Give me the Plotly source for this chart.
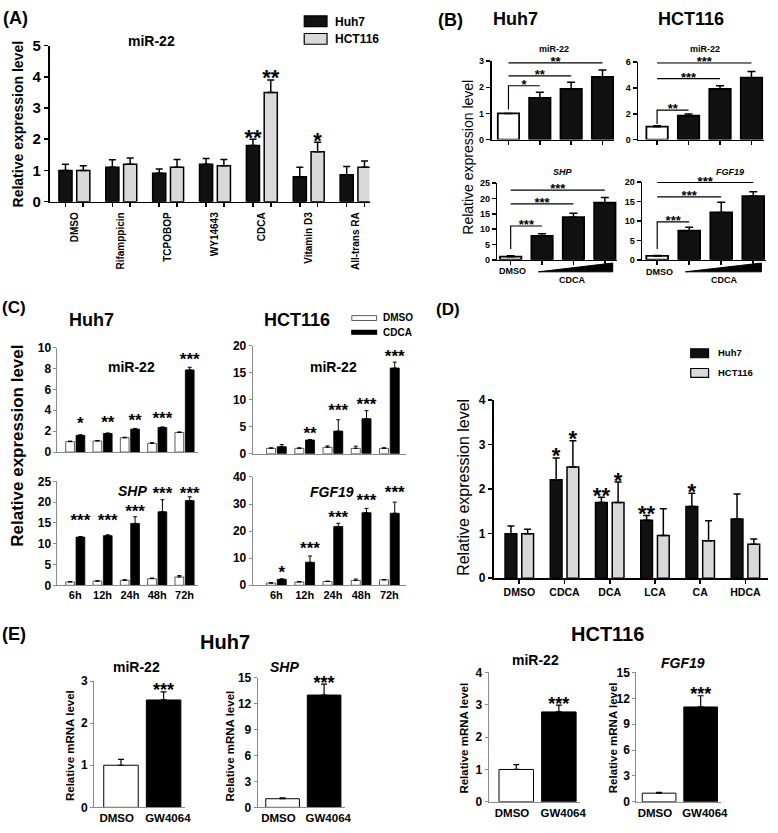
import plotly.graph_objects as go

W, H = 778, 833
FONT = "Liberation Sans, Arial, Helvetica, sans-serif"
INK = "#111111"
LIGHT = "#d9d9d9"
AXGREY = "#8a8a8a"

# ======================= DATA =======================
# (A) miR-22 after nuclear receptor ligands
a_categories = ["DMSO", "Rifamppicin", "TCPOBOP", "WY14643", "CDCA", "Vitamin D3", "All-trans RA"]
a_huh7 = [1.00, 1.10, 0.91, 1.20, 1.80, 0.80, 0.86]
a_huh7_err = [0.20, 0.24, 0.14, 0.18, 0.20, 0.30, 0.27]
a_hct116 = [1.00, 1.20, 1.10, 1.15, 3.50, 1.60, 1.10]
a_hct116_err = [0.15, 0.20, 0.25, 0.20, 0.40, 0.30, 0.20]
a_huh7_sig = ["", "", "", "", "**", "", ""]
a_hct116_sig = ["", "", "", "", "**", "*", ""]

# (B) CDCA dose response
b_groups = ["DMSO", "CDCA low", "CDCA mid", "CDCA high"]
b_huh7_mir22 = [1.00, 1.60, 1.94, 2.40]
b_huh7_mir22_err = [0.00, 0.21, 0.25, 0.26]
b_hct116_mir22 = [1.00, 1.85, 3.92, 4.80]
b_hct116_mir22_err = [0.08, 0.14, 0.26, 0.48]
b_huh7_shp = [1.00, 7.80, 13.90, 18.60]
b_huh7_shp_err = [0.30, 0.70, 1.30, 1.70]
b_hct116_fgf19 = [1.00, 7.50, 12.20, 16.40]
b_hct116_fgf19_err = [0.10, 0.90, 2.60, 1.10]
# significance brackets: (target group index, bracket level, label)
b_huh7_mir22_brackets = [(1, 2.06, "*"), (2, 2.44, "**"), (3, 2.94, "**")]
b_hct116_mir22_brackets = [(1, 2.28, "**"), (2, 4.73, "***"), (3, 5.95, "***")]
b_huh7_shp_brackets = [(1, 11.0, "***"), (2, 18.2, "***"), (3, 22.7, "***")]
b_hct116_fgf19_brackets = [(1, 9.75, "***"), (2, 16.2, "***"), (3, 19.9, "***")]
b_bracket_bases = [1.15, 1.2, 3.5, 2.8]

# (C) time course
c_times = ["6h", "12h", "24h", "48h", "72h"]
c_huh7_mir22_dmso = [1.00, 1.06, 1.37, 0.84, 1.87]
c_huh7_mir22_dmso_err = [0.05, 0.05, 0.05, 0.05, 0.06]
c_huh7_mir22_cdca = [1.60, 1.78, 2.20, 2.35, 7.87]
c_huh7_mir22_cdca_err = [0.05, 0.05, 0.06, 0.06, 0.25]
c_huh7_mir22_sig = ["*", "**", "**", "***", "***"]
c_huh7_mir22_sig_y = [2.6, 2.7, 2.9, 3.1, 8.7]

c_huh7_shp_dmso = [0.8, 1.0, 1.2, 1.6, 2.0]
c_huh7_shp_dmso_err = [0.10, 0.10, 0.15, 0.15, 0.35]
c_huh7_shp_cdca = [11.6, 11.95, 14.9, 17.7, 20.4]
c_huh7_shp_cdca_err = [0.15, 0.20, 1.60, 2.90, 0.90]
c_huh7_shp_sig = ["***", "***", "***", "***", "***"]
c_huh7_shp_sig_y = [15.2, 15.2, 17.4, 21.7, 21.7]

c_hct116_mir22_dmso = [1.0, 1.0, 1.2, 1.0, 1.0]
c_hct116_mir22_dmso_err = [0.10, 0.10, 0.25, 0.40, 0.10]
c_hct116_mir22_cdca = [1.3, 2.55, 4.2, 6.5, 15.9]
c_hct116_mir22_cdca_err = [0.40, 0.10, 2.10, 1.50, 1.10]
c_hct116_mir22_sig = ["", "**", "***", "***", "***"]
c_hct116_mir22_sig_y = [2.5, 3.5, 7.7, 8.9, 17.8]

c_hct116_fgf19_dmso = [0.8, 1.2, 1.4, 1.8, 2.0]
c_hct116_fgf19_dmso_err = [0.15, 0.20, 0.15, 0.50, 0.10]
c_hct116_fgf19_cdca = [2.2, 8.5, 21.7, 26.8, 26.6]
c_hct116_fgf19_cdca_err = [0.20, 2.30, 1.20, 1.60, 4.10]
c_hct116_fgf19_sig = ["*", "***", "***", "***", "***"]
c_hct116_fgf19_sig_y = [4.2, 13.3, 24.7, 30.7, 33.7]

# (D) bile acids
d_categories = ["DMSO", "CDCA", "DCA", "LCA", "CA", "HDCA"]
d_huh7 = [1.00, 2.21, 1.70, 1.30, 1.61, 1.33]
d_huh7_err = [0.17, 0.49, 0.12, 0.11, 0.30, 0.56]
d_hct116 = [1.00, 2.50, 1.70, 0.96, 0.84, 0.76]
d_hct116_err = [0.10, 0.59, 0.46, 0.60, 0.45, 0.12]
d_huh7_sig = ["", "*", "**", "**", "*", ""]
d_hct116_sig = ["", "*", "*", "", "", ""]

# (E) GW4064
e_groups = ["DMSO", "GW4064"]
e_huh7_mir22 = [1.00, 2.55]
e_huh7_mir22_err = [0.14, 0.19]
e_huh7_shp = [1.00, 13.00]
e_huh7_shp_err = [0.10, 1.26]
e_hct116_mir22 = [1.00, 2.78]
e_hct116_mir22_err = [0.15, 0.21]
e_hct116_fgf19 = [1.00, 11.00]
e_hct116_fgf19_err = [0.10, 1.30]
e_sig = ["", "***"]

# ======================= FIGURE =======================
fig = go.Figure()
layout = dict(width=W, height=H, margin=dict(l=0, r=0, t=0, b=0),
              paper_bgcolor="white", plot_bgcolor="rgba(0,0,0,0)",
              barmode="overlay", showlegend=False,
              font=dict(family=FONT, color="black"))
shapes, annotations = [], []


def ref(i):
    s = "" if i == 1 else str(i)
    return "x" + s, "y" + s, "xaxis" + s, "yaxis" + s


def add_axes(i, xpx, ypx, xrange, yrange, dtick, style, ytick_size,
             xtickvals=None, xlabels=None, xlabel_size=11, xticks="",
             xangle=0, minor_vals=None, standoff=None):
    xr, yr, xk, yk = ref(i)
    if style == "prism":
        lc, lw, tl, tw = "black", 1.6, 4, 1.6
    else:
        lc, lw, tl, tw = AXGREY, 1, 3, 1
    xa = dict(domain=[xpx[0] / W, xpx[1] / W], range=xrange, anchor=yr,
              showline=True, linecolor=lc, linewidth=lw, showgrid=False,
              zeroline=False, ticks=xticks, ticklen=tl, tickwidth=tw,
              tickcolor=lc, fixedrange=True, tickangle=xangle)
    if xtickvals is not None:
        xa.update(tickmode="array", tickvals=xtickvals)
        if xlabels is not None:
            xa.update(ticktext=xlabels, showticklabels=True,
                      tickfont=dict(family=FONT, size=xlabel_size, color="black", weight="bold"))
        else:
            xa.update(ticktext=[""] * len(xtickvals), showticklabels=False)
    else:
        xa.update(showticklabels=False)
    if standoff is not None:
        xa["ticklabelstandoff"] = standoff
    if minor_vals is not None:
        xa["minor"] = dict(tickmode="array", tickvals=minor_vals, ticks="outside",
                           ticklen=tl, tickwidth=tw, tickcolor=lc)
    ya = dict(domain=[1 - ypx[1] / H, 1 - ypx[0] / H], range=yrange, anchor=xr,
              showline=True, linecolor=lc, linewidth=lw, showgrid=False,
              zeroline=False, tickmode="linear", tick0=0, dtick=dtick,
              ticks="outside", ticklen=tl, tickwidth=tw, tickcolor=lc,
              tickfont=dict(family=FONT, size=ytick_size, color="black", weight="bold"),
              fixedrange=True)
    layout[xk] = xa
    layout[yk] = ya


def pos(n, shift=0.0):
    return [k + shift for k in range(n)]


def bars(i, xs, ys, errs, width, fill, line_color="black", line_width=1.5, cap=3.5, thick=1.5):
    xr, yr, _, _ = ref(i)
    fig.add_trace(go.Bar(
        x=xs, y=ys, width=width, xaxis=xr, yaxis=yr,
        marker=dict(color=fill, line=dict(color=line_color, width=line_width)),
        error_y=dict(type="data", array=errs, arrayminus=[0] * len(errs), symmetric=False,
                     color="black", thickness=thick, width=cap),
        hoverinfo="skip", showlegend=False))


def stars(i, xs, ys, labels, size):
    xr, yr, _, _ = ref(i)
    fig.add_trace(go.Scatter(
        x=xs, y=ys, text=labels, mode="text", textposition="middle center",
        textfont=dict(family=FONT, size=size, color="black", weight="bold"),
        cliponaxis=False, xaxis=xr, yaxis=yr, hoverinfo="skip", showlegend=False))


def tops(v, e):
    return [a + b for a, b in zip(v, e)]


def brackets(i, specs, base, size):
    xr, yr, _, _ = ref(i)
    for k, (target, level, label) in enumerate(specs):
        if k == 0:
            xs, ys = [0, 0, target], [base, level, level]
        else:
            xs, ys = [0, target], [level, level]
        fig.add_trace(go.Scatter(x=xs, y=ys, mode="lines", line=dict(color="black", width=1.2),
                                 xaxis=xr, yaxis=yr, hoverinfo="skip", showlegend=False))
        stars(i, [target / 2], [level], [label], size)


def text(t, x, y, size, bold=True, italic=False, xanchor="center", angle=0):
    s = t
    if italic:
        s = "<i>" + s + "</i>"
    if bold:
        s = "<b>" + s + "</b>"
    annotations.append(dict(text=s, x=x / W, y=1 - y / H, xref="paper", yref="paper",
                            xanchor=xanchor, yanchor="middle", showarrow=False,
                            textangle=angle, font=dict(family=FONT, size=size, color="black")))


def rect(x0, y0, x1, y1, fill, line="black", lw=1.2):
    shapes.append(dict(type="rect", xref="paper", yref="paper", x0=x0 / W, x1=x1 / W,
                       y0=1 - y1 / H, y1=1 - y0 / H, fillcolor=fill,
                       line=dict(color=line, width=lw)))


def wedge(x0, x1, ytop, ybot):
    p = "M {} {} L {} {} L {} {} Z".format(x0 / W, 1 - ybot / H, x1 / W, 1 - ytop / H,
                                          x1 / W, 1 - ybot / H)
    shapes.append(dict(type="path", xref="paper", yref="paper", path=p,
                       fillcolor="black", line=dict(color="black", width=1)))


# ---------------- (A) ----------------
nA = len(a_categories)
add_axes(1, (50, 373), (37.3, 196.7), [-0.53, 6.3], [0, 5], 1, "prism", 15,
         xtickvals=pos(nA), xlabels=a_categories, xlabel_size=10, xticks="",
         xangle=-90, minor_vals=pos(nA, -0.19) + pos(nA, 0.19), standoff=5)
bars(1, pos(nA, -0.19), a_huh7, a_huh7_err, 0.28, INK)
bars(1, pos(nA, 0.19), a_hct116, a_hct116_err, 0.28, LIGHT)
stars(1, pos(nA, -0.19), tops(a_huh7, a_huh7_err), a_huh7_sig, 22)
stars(1, pos(nA, 0.19), tops(a_hct116, a_hct116_err), a_hct116_sig, 22)
text("(A)", 1, 9, 18, xanchor="left")
text("miR-22", 153, 33, 14)
text("Relative expression level", 18, 117, 14, angle=-90)
rect(307, 7, 330, 18, INK)
rect(307, 25, 330, 36, LIGHT)
text("Huh7", 336, 13, 12, xanchor="left")
text("HCT116", 336, 31, 12, xanchor="left")

# ---------------- (B) ----------------
nB = len(b_groups)
b_fill = ["white"] + [INK] * (nB - 1)
b_specs = [
    (2, (496, 620), (53.3, 133.3), [-0.54, 3.38], [0, 3], 1, b_huh7_mir22, b_huh7_mir22_err, b_huh7_mir22_brackets),
    (3, (644, 771), (54.3, 133.3), [-0.6, 3.4], [0, 6], 2, b_hct116_mir22, b_hct116_mir22_err, b_hct116_mir22_brackets),
    (4, (502, 623), (177.7, 256), [-0.42, 3.4], [0, 25], 5, b_huh7_shp, b_huh7_shp_err, b_huh7_shp_brackets),
    (5, (648, 773), (176.7, 256), [-0.47, 3.4], [0, 20], 5, b_hct116_fgf19, b_hct116_fgf19_err, b_hct116_fgf19_brackets),
]
for k, (i, xp, yp, xr_, yr_, dt, vals, errs, brs) in enumerate(b_specs):
    add_axes(i, xp, yp, xr_, yr_, dt, "prism", 9, xtickvals=pos(nB), xticks="outside")
    bars(i, pos(nB), vals, errs, 0.68, b_fill, line_width=1.8, cap=4, thick=1.5)
    brackets(i, brs, b_bracket_bases[k], 13)
text("(B)", 440, 11, 18, xanchor="left")
text("Huh7", 520, 10, 18)
text("HCT116", 697, 10, 18)
text("miR-22", 559, 41, 9)
text("miR-22", 711, 41, 9)
text("SHP", 568, 166, 9, italic=True)
text("FGF19", 737, 166, 9, italic=True)
text("Relative expression level", 472, 151, 14, bold=False, angle=-90)
text("DMSO", 517, 267, 9)
text("DMSO", 665, 268, 9)
text("CDCA", 577, 277, 9)
text("CDCA", 731, 277, 9)
wedge(543.3, 618.3, 259.3, 268.3)
wedge(691.7, 768.3, 259.3, 268.3)

# ---------------- (C) ----------------
nC = len(c_times)
c_specs = [
    (6, (58, 200), (345.7, 452.3), [-0.65, 4.5], [0, 10], 2, None,
     c_huh7_mir22_dmso, c_huh7_mir22_dmso_err, c_huh7_mir22_cdca, c_huh7_mir22_cdca_err, c_huh7_mir22_sig, c_huh7_mir22_sig_y),
    (7, (255, 410), (344, 454), [-0.84, 4.6], [0, 20], 5, None,
     c_hct116_mir22_dmso, c_hct116_mir22_dmso_err, c_hct116_mir22_cdca, c_hct116_mir22_cdca_err, c_hct116_mir22_sig, c_hct116_mir22_sig_y),
    (8, (58, 200), (482.3, 588.3), [-0.65, 4.5], [0, 25], 5, c_times,
     c_huh7_shp_dmso, c_huh7_shp_dmso_err, c_huh7_shp_cdca, c_huh7_shp_cdca_err, c_huh7_shp_sig, c_huh7_shp_sig_y),
    (9, (255, 410), (477.7, 588.3), [-0.84, 4.6], [0, 40], 10, c_times,
     c_hct116_fgf19_dmso, c_hct116_fgf19_dmso_err, c_hct116_fgf19_cdca, c_hct116_fgf19_cdca_err, c_hct116_fgf19_sig, c_hct116_fgf19_sig_y),
]
for (i, xp, yp, xr_, yr_, dt, labels, dv, de, cv, ce, sig, sy) in c_specs:
    add_axes(i, xp, yp, xr_, yr_, dt, "excel", 12,
             xtickvals=pos(nC) if labels else None, xlabels=labels, xlabel_size=11)
    bars(i, pos(nC, -0.19), dv, de, 0.32, "white", line_color="#333333", line_width=0.8, cap=2, thick=1)
    bars(i, pos(nC, 0.19), cv, ce, 0.32, "black", line_color="black", line_width=0.8, cap=2, thick=1)
    stars(i, pos(nC, 0.19), sy, sig, 17)
text("(C)", 0, 305, 17, xanchor="left")
text("Huh7", 92, 317, 18)
text("HCT116", 300, 317, 18)
rect(355, 313, 380, 318, "white", line="#333333", lw=0.8)
rect(355, 328, 380, 332, "black")
text("DMSO", 384, 315, 10, xanchor="left")
text("CDCA", 384, 330, 10, xanchor="left")
text("miR-22", 133, 365, 14)
text("miR-22", 337, 365, 14)
text("SHP", 134, 492, 14, italic=True)
text("FGF19", 335, 493, 14, italic=True)
text("Relative expression level", 18, 446, 17, angle=-90)

# ---------------- (D) ----------------
nD = len(d_categories)
add_axes(10, (498, 775), (399.3, 581), [-0.57, 5.5], [0, 4], 1, "prism", 12,
         xtickvals=pos(nD), xlabels=d_categories, xlabel_size=10.5, xticks="outside")
bars(10, pos(nD, -0.185), d_huh7, d_huh7_err, 0.26, INK)
bars(10, pos(nD, 0.185), d_hct116, d_hct116_err, 0.26, LIGHT)
stars(10, pos(nD, -0.185), tops(d_huh7, d_huh7_err), d_huh7_sig, 22)
stars(10, pos(nD, 0.185), tops(d_hct116, d_hct116_err), d_hct116_sig, 22)
text("(D)", 438, 307, 17, xanchor="left")
rect(697, 347, 715, 356, INK)
rect(697, 367, 715, 376, LIGHT)
text("Huh7", 723, 351, 9.5, xanchor="left")
text("HCT116", 723, 371, 9.5, xanchor="left")
text("Relative expression level", 467, 488, 16, bold=False, angle=-90)

# ---------------- (E) ----------------
nE = len(e_groups)
e_label_pos = [-0.1, 1.1]
e_specs = [
    (11, (95, 187), (686, 815), [-0.63, 1.51], [0, 3], 1, e_huh7_mir22, e_huh7_mir22_err),
    (12, (260, 348), (682.7, 815), [-0.6, 1.5], [0, 15], 3, e_huh7_shp, e_huh7_shp_err),
    (13, (493, 585), (677.3, 809.3), [-0.65, 1.49], [0, 4], 1, e_hct116_mir22, e_hct116_mir22_err),
    (14, (642, 728), (677.3, 809.3), [-0.55, 1.5], [0, 15], 3, e_hct116_fgf19, e_hct116_fgf19_err),
]
for (i, xp, yp, xr_, yr_, dt, vals, errs) in e_specs:
    add_axes(i, xp, yp, xr_, yr_, dt, "excel", 12, xtickvals=e_label_pos, xlabels=e_groups,
             xlabel_size=11.5, xangle=0)
    bars(i, pos(nE), vals, errs, 0.81, ["white", "black"], line_color="black", line_width=1, cap=3, thick=1.2)
    stars(i, pos(nE), tops(vals, errs), e_sig, 18)
text("(E)", 0, 638, 18, xanchor="left")
text("Huh7", 227, 646, 20)
text("HCT116", 613, 638, 20)
text("miR-22", 138, 672, 14)
text("SHP", 287, 672, 14, italic=True)
text("miR-22", 540, 665, 14)
text("FGF19", 689, 668, 14, italic=True)
for (xx, yy) in [(70, 752), (232, 752), (468, 744), (618, 744)]:
    text("Relative mRNA level", xx, yy, 11.5, angle=-90)

layout["shapes"] = shapes
layout["annotations"] = annotations
fig.update_layout(**layout)
fig.write_html("out.html", config={"displayModeBar": False, "staticPlot": True},
               post_script="document.body.style.margin='0px';document.body.style.overflow='hidden';")
